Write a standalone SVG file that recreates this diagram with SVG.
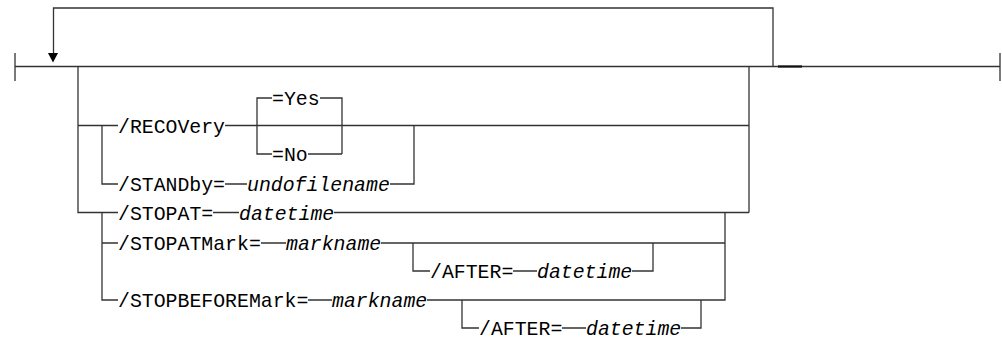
<svg xmlns="http://www.w3.org/2000/svg" width="1002" height="339" viewBox="0 0 1002 339">
<style>
.t{font-family:"Liberation Mono","DejaVu Sans Mono",monospace;font-size:20.4px;fill:#000}
.v{font-style:italic}
.c{fill:none;stroke:#333;stroke-width:1.3}
.h{fill:none;stroke:#111;stroke-width:2.2}
</style>
<rect width="1002" height="339" fill="#fff"/>
<g id="connectors">
<path class="c" d="M15,66.5 H1000 M15,53 V81 M1000,53 V81"/>
<path class="h" d="M778,66.5 H802"/>
<path class="c" d="M773,66.5 V8 H53.5 V54"/>
<polygon points="48,53 58,53 53,62.5" fill="#000"/>
<path class="c" d="M78,66.5 V212.5 H118 M749,66.5 V212.5 M213,212.5 H239 M334,212.5 H749"/>
<path class="c" d="M78,125.5 H118 M225,125.5 H749"/>
<path class="c" d="M257,125.5 V98 H272 M320,98 H342 V154 M257,125.5 V154 H272 M308,154 H342"/>
<path class="c" d="M102,125.5 V184 H118 M225,184 H247 M390,184 H414 V125.5"/>
<path class="c" d="M102,212.5 V300 H118 M102,243 H118 M261,243 H286 M381,243 H725 M725,212.5 V300 H427 M308,300 H332"/>
<path class="c" d="M413,243 V271 H430 M513,271 H537 M632,271 H653 V243"/>
<path class="c" d="M462,300 V328 H479 M562,328 H586 M681,328 H701 V300"/>
</g>
<g id="recovery"><text class="t" x="118" y="132.8" textLength="107" lengthAdjust="spacingAndGlyphs">/RECOVery</text></g>
<g id="yes"><text class="t" x="272" y="105.3" textLength="47.6" lengthAdjust="spacingAndGlyphs">=Yes</text></g>
<g id="no"><text class="t" x="272" y="161.3" textLength="35.7" lengthAdjust="spacingAndGlyphs">=No</text></g>
<g id="standby"><text class="t" x="118" y="191.3" textLength="107" lengthAdjust="spacingAndGlyphs">/STANDby=</text><text class="t v" x="247" y="191.3" textLength="142.8" lengthAdjust="spacingAndGlyphs">undofilename</text></g>
<g id="stopat"><text class="t" x="118" y="219.8" textLength="95.2" lengthAdjust="spacingAndGlyphs">/STOPAT=</text><text class="t v" x="239" y="219.8" textLength="95.2" lengthAdjust="spacingAndGlyphs">datetime</text></g>
<g id="stopatmark"><text class="t" x="118" y="250.3" textLength="142.8" lengthAdjust="spacingAndGlyphs">/STOPATMark=</text><text class="t v" x="286" y="250.3" textLength="95.2" lengthAdjust="spacingAndGlyphs">markname</text></g>
<g id="after1"><text class="t" x="430" y="278.3" textLength="83.3" lengthAdjust="spacingAndGlyphs">/AFTER=</text><text class="t v" x="537" y="278.3" textLength="95.2" lengthAdjust="spacingAndGlyphs">datetime</text></g>
<g id="stopbeforemark"><text class="t" x="118" y="307.3" textLength="190.4" lengthAdjust="spacingAndGlyphs">/STOPBEFOREMark=</text><text class="t v" x="332" y="307.3" textLength="95.2" lengthAdjust="spacingAndGlyphs">markname</text></g>
<g id="after2"><text class="t" x="479" y="334.8" textLength="83.3" lengthAdjust="spacingAndGlyphs">/AFTER=</text><text class="t v" x="586" y="334.8" textLength="95.2" lengthAdjust="spacingAndGlyphs">datetime</text></g>
</svg>
